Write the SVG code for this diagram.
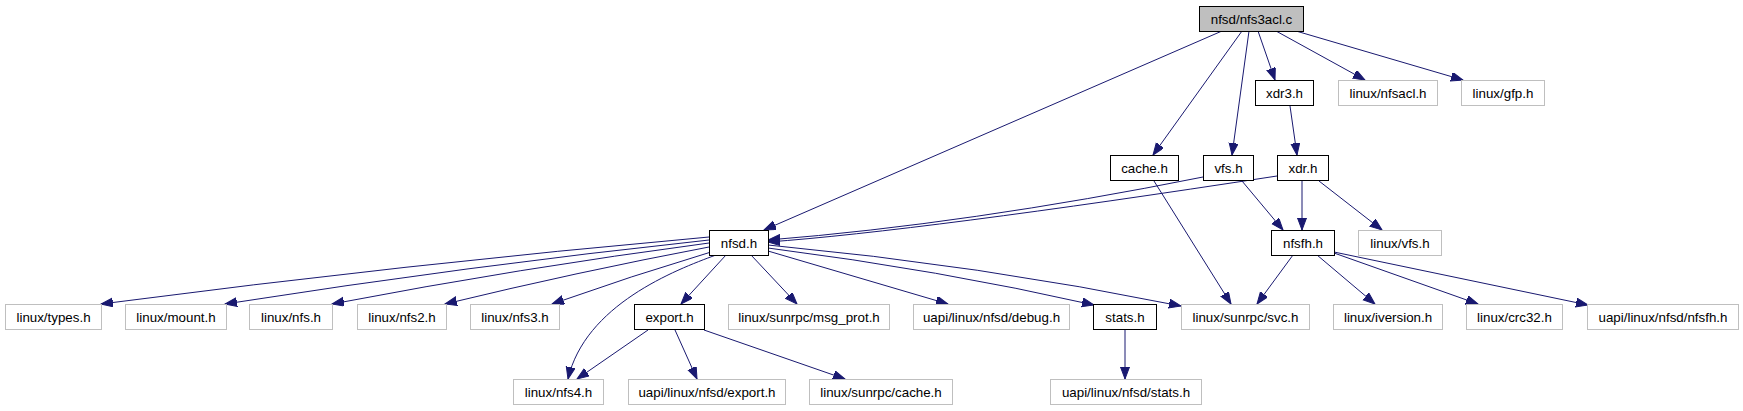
<svg xmlns="http://www.w3.org/2000/svg" width="1743" height="411" viewBox="0 0 1743 411">
<style>
  .n rect { fill: #ffffff; stroke: #000000; stroke-width: 1; }
  .g rect { fill: #ffffff; stroke: #bfbfbf; stroke-width: 1; }
  .root rect { fill: #bfbfbf; stroke: #000000; stroke-width: 1; }
  text { font-family: "Liberation Sans", Arial, sans-serif; font-size: 13.33px; fill: #000000; text-anchor: middle; }
  .e path { fill: none; stroke: #191970; stroke-width: 1; marker-end: url(#arr); }
</style>
<defs>
  <marker id="arr" markerUnits="userSpaceOnUse" markerWidth="13" markerHeight="10" refX="12" refY="4.5" orient="auto">
    <path d="M0,0 L12,4.5 L0,9 z" fill="#191970" stroke="#191970" stroke-width="1"/>
  </marker>
</defs>
<rect x="0" y="0" width="1743" height="411" fill="#ffffff"/>
<g id="edges" class="e">
  <path d="M1222,31 L764,230"/>
  <path d="M1242,31 L1153,155"/>
  <path d="M1249,31 L1232,155"/>
  <path d="M1258,31 L1275,80"/>
  <path d="M1276,31 L1365,80"/>
  <path d="M1296,31 L1463,80"/>
  <path d="M1290,106 L1297,155"/>
  <path d="M1203,177 Q968,224 768,240"/>
  <path d="M1277,176 Q919,231 768,242"/>
  <path d="M1242,181 L1283,230"/>
  <path d="M1302,181 L1302,230"/>
  <path d="M1319,181 L1382,230"/>
  <path d="M1154,181 L1231,304"/>
  <path d="M1293,255 L1257,304"/>
  <path d="M1317,255 L1375,304"/>
  <path d="M1334,253 L1478,304"/>
  <path d="M1334,252 L1588,305"/>
  <path d="M709,237 Q407,264 101,304"/>
  <path d="M709,240 Q467,266 225,304"/>
  <path d="M709,243 Q520,268 332,304"/>
  <path d="M709,247 Q577,272 445,304"/>
  <path d="M711,252 Q631,276 552,304"/>
  <path d="M716,255 C675,270 585,305 568,379"/>
  <path d="M726,255 L681,304"/>
  <path d="M751,255 L797,304"/>
  <path d="M768,251 L948,304"/>
  <path d="M768,248 Q940,270 1094,305"/>
  <path d="M768,245 Q980,265 1181,306"/>
  <path d="M648,330 L577,379"/>
  <path d="M675,330 L697,379"/>
  <path d="M704,330 L845,379"/>
  <path d="M1125,330 L1125,379"/>
</g>
<g id="node-nfs3acl" class="root"><rect x="1199.5" y="6.5" width="104" height="25"/><text x="1251.5" y="23.5">nfsd/nfs3acl.c</text></g>
<g id="node-xdr3" class="n"><rect x="1255.5" y="80.5" width="58" height="25"/><text x="1284.5" y="97.5">xdr3.h</text></g>
<g id="node-nfsacl" class="g"><rect x="1338.5" y="80.5" width="99" height="25"/><text x="1388" y="97.5">linux/nfsacl.h</text></g>
<g id="node-gfp" class="g"><rect x="1461.5" y="80.5" width="83" height="25"/><text x="1503" y="97.5">linux/gfp.h</text></g>
<g id="node-cache" class="n"><rect x="1110.5" y="155.5" width="68" height="25"/><text x="1144.5" y="172.5">cache.h</text></g>
<g id="node-vfs" class="n"><rect x="1203.5" y="155.5" width="50" height="25"/><text x="1228.5" y="172.5">vfs.h</text></g>
<g id="node-xdr" class="n"><rect x="1277.5" y="155.5" width="51" height="25"/><text x="1303" y="172.5">xdr.h</text></g>
<g id="node-nfsd" class="n"><rect x="709.5" y="230.5" width="59" height="25"/><text x="739" y="247.5">nfsd.h</text></g>
<g id="node-nfsfh" class="n"><rect x="1271.5" y="230.5" width="63" height="25"/><text x="1303" y="247.5">nfsfh.h</text></g>
<g id="node-linuxvfs" class="g"><rect x="1358.5" y="230.5" width="83" height="25"/><text x="1400" y="247.5">linux/vfs.h</text></g>
<g id="node-types" class="g"><rect x="5.5" y="304.5" width="96" height="25"/><text x="53.5" y="321.5">linux/types.h</text></g>
<g id="node-mount" class="g"><rect x="125.5" y="304.5" width="101" height="25"/><text x="176" y="321.5">linux/mount.h</text></g>
<g id="node-nfs" class="g"><rect x="249.5" y="304.5" width="83" height="25"/><text x="291" y="321.5">linux/nfs.h</text></g>
<g id="node-nfs2" class="g"><rect x="357.5" y="304.5" width="89" height="25"/><text x="402" y="321.5">linux/nfs2.h</text></g>
<g id="node-nfs3" class="g"><rect x="470.5" y="304.5" width="89" height="25"/><text x="515" y="321.5">linux/nfs3.h</text></g>
<g id="node-export" class="n"><rect x="634.5" y="304.5" width="70" height="25"/><text x="669.5" y="321.5">export.h</text></g>
<g id="node-msgprot" class="g"><rect x="728.5" y="304.5" width="161" height="25"/><text x="809" y="321.5">linux/sunrpc/msg_prot.h</text></g>
<g id="node-debug" class="g"><rect x="913.5" y="304.5" width="156" height="25"/><text x="991.5" y="321.5">uapi/linux/nfsd/debug.h</text></g>
<g id="node-stats" class="n"><rect x="1093.5" y="304.5" width="63" height="25"/><text x="1125" y="321.5">stats.h</text></g>
<g id="node-svc" class="g"><rect x="1181.5" y="304.5" width="128" height="25"/><text x="1245.5" y="321.5">linux/sunrpc/svc.h</text></g>
<g id="node-iversion" class="g"><rect x="1333.5" y="304.5" width="109" height="25"/><text x="1388" y="321.5">linux/iversion.h</text></g>
<g id="node-crc32" class="g"><rect x="1466.5" y="304.5" width="96" height="25"/><text x="1514.5" y="321.5">linux/crc32.h</text></g>
<g id="node-uapinfsfh" class="g"><rect x="1587.5" y="304.5" width="151" height="25"/><text x="1663" y="321.5">uapi/linux/nfsd/nfsfh.h</text></g>
<g id="node-nfs4" class="g"><rect x="513.5" y="379.5" width="90" height="25"/><text x="558.5" y="396.5">linux/nfs4.h</text></g>
<g id="node-uapiexport" class="g"><rect x="628.5" y="379.5" width="157" height="25"/><text x="707" y="396.5">uapi/linux/nfsd/export.h</text></g>
<g id="node-sunrpccache" class="g"><rect x="809.5" y="379.5" width="143" height="25"/><text x="881" y="396.5">linux/sunrpc/cache.h</text></g>
<g id="node-uapistats" class="g"><rect x="1050.5" y="379.5" width="151" height="25"/><text x="1126" y="396.5">uapi/linux/nfsd/stats.h</text></g>
</svg>
